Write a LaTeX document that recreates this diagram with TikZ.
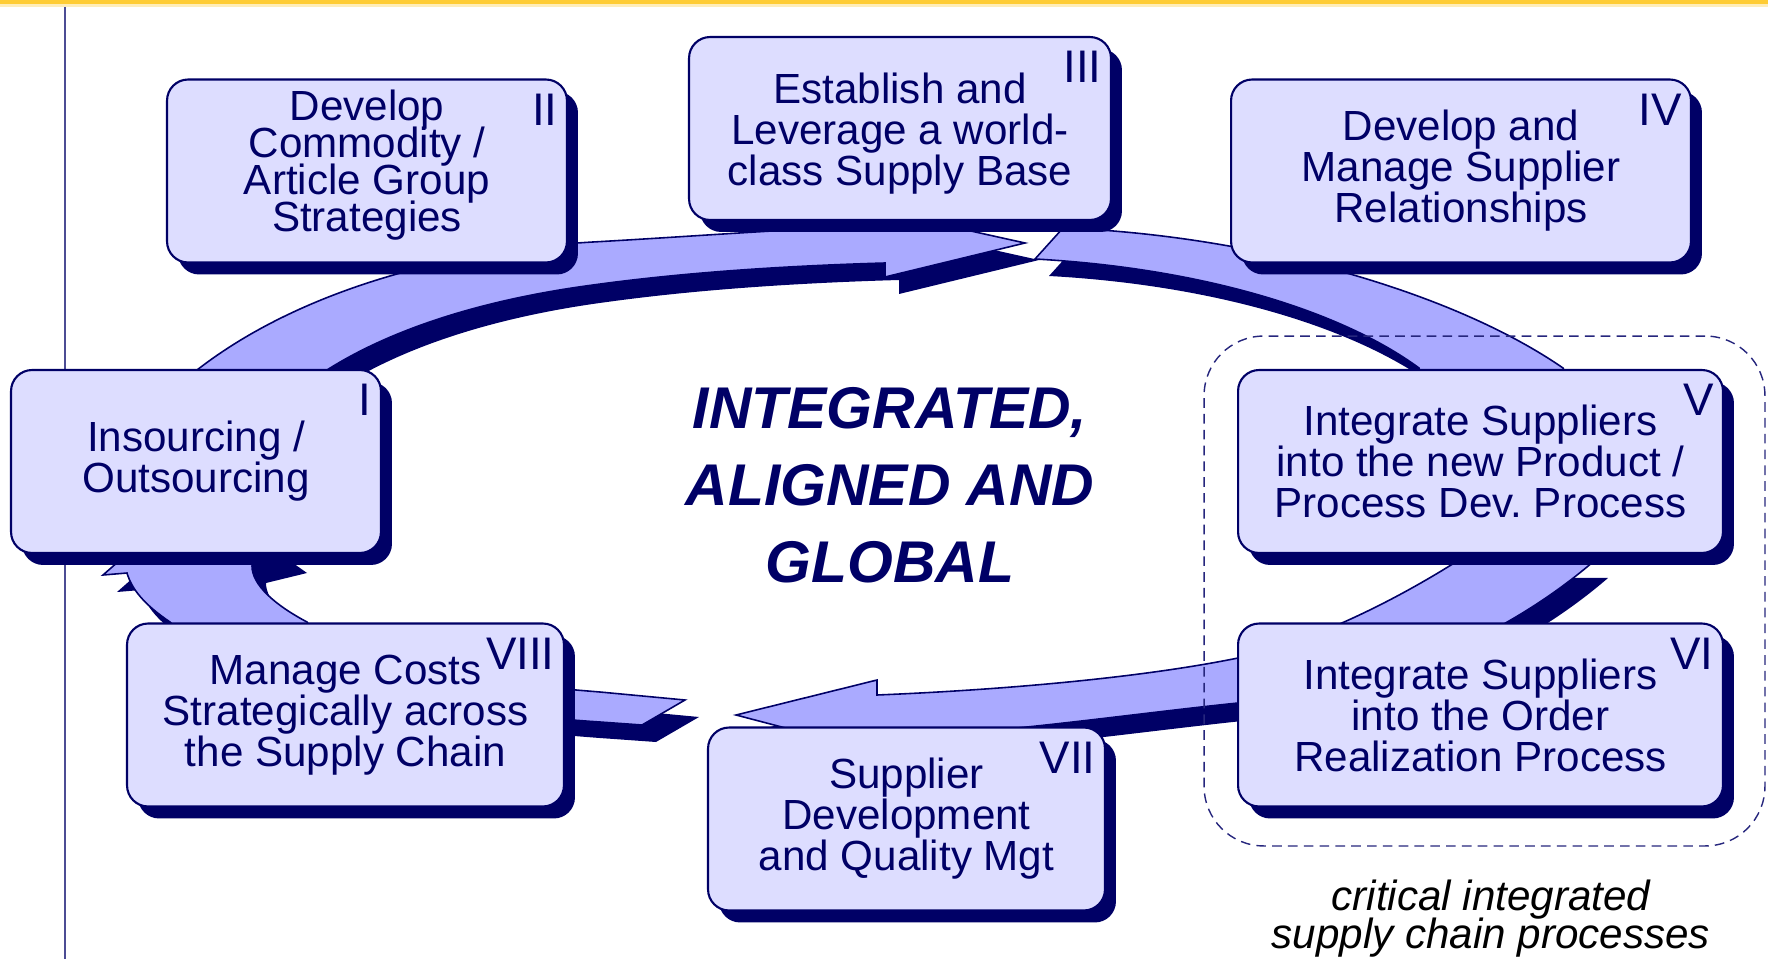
\documentclass[tikz,border=0pt]{standalone}
\usepackage{fontspec}
\setmainfont{Liberation Sans}
\usetikzlibrary{positioning,shadows}

\definecolor{navy}{RGB}{0,0,102}
\definecolor{bandblue}{RGB}{170,170,255}
\definecolor{boxfill}{RGB}{221,221,255}
\definecolor{topyellow}{RGB}{255,204,51}

\tikzset{
  stagebox/.style={draw=navy, line width=1.2pt, fill=boxfill, rounded corners=12pt,
    minimum height=3.66cm, inner sep=0pt, align=center, text=navy,
    font=\fontsize{24}{23.3}\selectfont,
    drop shadow={shadow xshift=0.22cm, shadow yshift=-0.24cm, fill=navy, opacity=1}},
  numeral/.style={anchor=north east, inner sep=0pt, text=navy, font=\fontsize{26}{26}\selectfont},
  band/.style={fill=bandblue, draw=navy, line width=0.9pt},
  bandshadow/.style={fill=navy, shift={(14,17)}},
  motto/.style={align=center, text=navy, font=\fontsize{33.5}{43.7}\selectfont\bfseries\itshape},
  note/.style={align=center, inner sep=0pt, font=\fontsize{24}{21.5}\selectfont\itshape},
  zone/.style={draw=navy!85, dash pattern=on 5.5pt off 3.5pt, line width=0.8pt, rounded corners=34pt}
}

% outlines of the four curved block arrows (picture units, y downwards)
\newcommand{\arcA}{(215,430) -- (197,370) .. controls (300,290) and (450,250) .. (593,242)
  .. controls (700,236) and (800,228) .. (885,226) -- (885,212) -- (1025,243) -- (885,277)
  -- (885,263) .. controls (780,266) and (680,273) .. (593,285)
  .. controls (480,300) and (390,330) .. (327,370) -- (315,430) -- cycle}
\newcommand{\arcB}{(1063,228) .. controls (1250,235) and (1450,290) .. (1563,368)
  -- (1600,450) -- (1440,450) -- (1419,368) .. controls (1340,310) and (1200,268) .. (1035,259) -- cycle}
\newcommand{\arcC}{(1594,561) .. controls (1520,625) and (1400,690) .. (1238,703)
  .. controls (1130,714) and (990,735) .. (877,738) -- (877,752) -- (736,715) -- (877,680)
  -- (877,695) .. controls (1000,690) and (1140,678) .. (1238,658)
  .. controls (1300,645) and (1380,610) .. (1459,560) -- cycle}
\newcommand{\arcD}{(685,700) -- (600,692) .. controls (450,680) and (330,660) .. (307,622)
  .. controls (275,605) and (252,585) .. (252,566) -- (293,556) -- (200,490) -- (103,575)
  -- (127,573) .. controls (132,590) and (145,605) .. (170,622)
  .. controls (220,680) and (450,712) .. (600,722) -- (642,725) -- cycle}

\begin{document}
\lineskiplimit=-\maxdimen
\begin{tikzpicture}[x=0.02cm, y=-0.02cm]
    \useasboundingbox (0,0) rectangle (1768,959);
    % Frame
    \fill[topyellow] (0,0) rectangle (1768,4);
    \fill[topyellow!35] (0,4) rectangle (1768,7);
    \draw[navy!70, line width=1.3pt] (65,7) -- (65,959);
    % Arrows
    \fill[bandshadow] \arcA;
    \fill[bandshadow] \arcB;
    \fill[bandshadow] \arcC;
    \fill[bandshadow] \arcD;
    \filldraw[band] \arcA;
    \filldraw[band] \arcB;
    \filldraw[band] \arcC;
    \filldraw[band] \arcD;
    % Boxes
    \node[stagebox, minimum width=7.4cm] (insourcing) at (196,461.5) {Insourcing /\\Outsourcing};
    \node[stagebox, minimum width=8cm, font=\fontsize{24}{21}\selectfont, text depth=12pt] (commodity) at (367,171) {Develop\\Commodity /\\Article Group\\Strategies};
    \node[stagebox, minimum width=8.44cm, text height=70pt] (supplybase) at (900,128.5) {Establish and\\Leverage a world-\\class Supply Base};
    \node[stagebox, minimum width=9.2cm] (relations) at (1461,171) {Develop and\\Manage Supplier\\Relationships};
    \node[stagebox, minimum width=9.7cm] (npd) at (1480.5,461.5) {Integrate Suppliers\\into the new Product /\\Process Dev.\ Process};
    \node[stagebox, minimum width=9.7cm] (order) at (1480.5,715) {Integrate Suppliers\\into the Order\\Realization Process};
    \node[stagebox, minimum width=7.94cm] (quality) at (906.5,819) {Supplier\\Development\\and Quality Mgt};
    \node[stagebox, minimum width=8.74cm] (costs) at (345.5,715) {Manage Costs\\Strategically across\\the Supply Chain};
    % Numerals
    \node[numeral] (nI) at ([shift={(-10,15)}]insourcing.north east) {I};
    \node[numeral] (nII) at ([shift={(-10,15)}]commodity.north east) {II};
    \node[numeral] (nIII) at ([shift={(-10,15)}]supplybase.north east) {III};
    \node[numeral] (nIV) at ([shift={(-10,15)}]relations.north east) {IV};
    \node[numeral] (nV) at ([shift={(-10,15)}]npd.north east) {V};
    \node[numeral] (nVI) at ([shift={(-10,15)}]order.north east) {VI};
    \node[numeral] (nVII) at ([shift={(-10,15)}]quality.north east) {VII};
    \node[numeral] (nVIII) at ([shift={(-10,15)}]costs.north east) {VIII};
    % Centre and critical processes
    \node[motto] (motto) at (890,485) {INTEGRATED,\\ALIGNED AND\\GLOBAL};
    \node[zone, minimum width=11.22cm, minimum height=10.2cm] (zone) at (1484.5,591) {};
    \node[note, below=0.66cm of zone, xshift=0.13cm] (critical) {critical integrated\\supply chain processes};
\end{tikzpicture}
\end{document}
